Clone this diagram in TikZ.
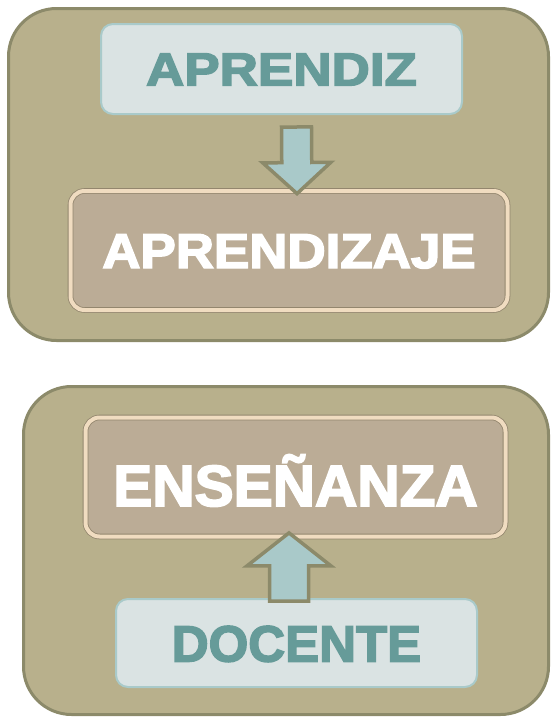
\documentclass[tikz,border=0pt]{standalone}
\usepackage{fontspec}
\setmainfont{Liberation Sans}[BoldFeatures={FakeBold=3}]
\usetikzlibrary{calc,
	positioning,
	shapes}

\definecolor{olivefill}{HTML}{B8B08C}
\definecolor{olivedraw}{HTML}{8C8A6A}
\definecolor{palebox}{HTML}{DAE3E3}
\definecolor{paleedge}{HTML}{A9CACA}
\definecolor{tealtext}{HTML}{669B99}
\definecolor{brownbox}{HTML}{BBAC96}
\definecolor{creamedge}{HTML}{F0DCC0}
\definecolor{brownedge}{HTML}{93866E}
\definecolor{arrowfill}{HTML}{A9C9C9}

% block arrow: start, tip, shaft half width, head half width, head length
\newcommand{\blockarrow}[5]{%
	\coordinate (h) at ($(#2)!#5!(#1)$);
	\draw[arrowshape] ($(#1)!#3!90:(#2)$) -- ($(h)!#3!90:(#2)$) -- ($(h)!#4!90:(#2)$) -- (#2)
		-- ($(h)!#4!-90:(#2)$) -- ($(h)!#3!-90:(#2)$) -- ($(#1)!#3!-90:(#2)$) -- cycle;
}

\begin{document}
\begin{tikzpicture}[x=1pt, y=-1pt,
	outerbox/.style={rectangle, rounded corners=48pt, fill=olivefill, draw=olivedraw, line width=3pt, inner sep=0pt},
	palenode/.style={rectangle, rounded corners=12pt, fill=palebox, draw=paleedge, line width=2pt, text=tealtext, inner sep=0pt, text depth=0pt},
	brownnode/.style={rectangle, rounded corners=14pt, fill=brownbox, draw=brownedge, double=creamedge, double distance=4pt, line width=0.8pt, text=white, inner sep=0pt, text depth=0pt},
	arrowshape/.style={fill=arrowfill, draw=olivedraw, line width=3.5pt, miter limit=10}]
	\useasboundingbox (0,0) rectangle (552,718);
	% upper panel
	\node (upper) [outerbox, minimum width=540pt, minimum height=332pt] at (278.5,174.5) {};
	\node (aprendiz) [palenode, minimum width=361pt, minimum height=90pt, text height=33pt,
		font=\bfseries\fontsize{46.5}{46.5}\selectfont] at (281.5,69) {\scalebox{1.14}[1]{APRENDIZ}};
	\node (aprendizaje) [brownnode, minimum width=437pt, minimum height=119pt, text height=35pt,
		font=\bfseries\fontsize{49}{49}\selectfont] at (289,250.5) {\scalebox{1.08}[1]{APRENDIZAJE}};
	\blockarrow{[xshift=15pt,yshift=-12pt]aprendiz.south}{[xshift=8pt,yshift=-3pt]aprendizaje.north}{15pt}{34pt}{31pt}
	% lower panel
	\node (lower) [outerbox, minimum width=525pt, minimum height=328pt] at (286,550.5) {};
	\node (ensenanza) [brownnode, minimum width=420pt, minimum height=119pt, text height=58pt,
		font=\bfseries\fontsize{58}{58}\selectfont] at (295.5,477) {\scalebox{1.01}[1]{ENSEÑANZA}};
	\node (docente) [palenode, minimum width=361pt, minimum height=88pt, text height=37pt,
		font=\bfseries\fontsize{51}{51}\selectfont] at (296.5,643) {DOCENTE};
	\blockarrow{[xshift=-7.5pt,yshift=-3pt]docente.north}{[xshift=-6.5pt,yshift=4pt]ensenanza.south}{19.5pt}{42pt}{33pt}
\end{tikzpicture}
\end{document}
